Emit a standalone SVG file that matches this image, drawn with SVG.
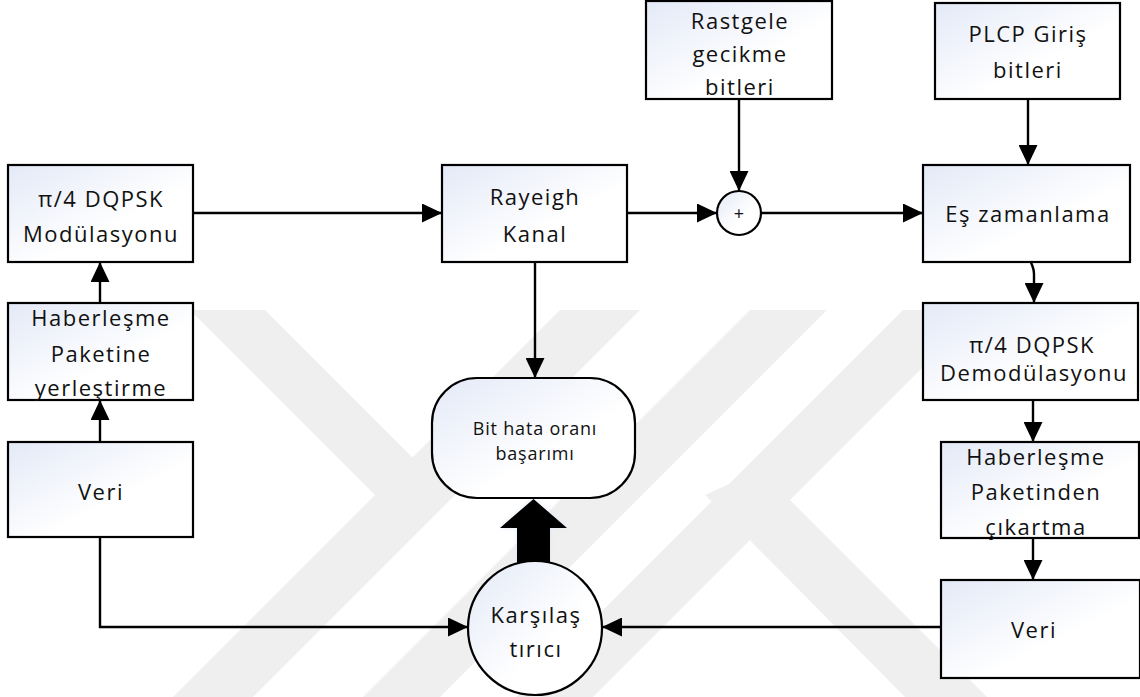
<svg xmlns="http://www.w3.org/2000/svg" width="1140" height="697" viewBox="0 0 1140 697">
<defs>
<linearGradient id="g" x1="0" y1="0" x2="1" y2="1">
<stop offset="0" stop-color="#e3e9f7"/>
<stop offset="0.6" stop-color="#ffffff"/>
</linearGradient>
<marker id="a" markerUnits="userSpaceOnUse" markerWidth="20" markerHeight="19" refX="20" refY="9.5" orient="auto">
<path d="M0,0 L20,9.5 L0,19 z" fill="#000"/>
</marker>
<filter id="glow" x="-50%" y="-50%" width="200%" height="200%">
<feGaussianBlur stdDeviation="2"/>
</filter>
</defs>
<style>
.box{fill:url(#g);stroke:#000;stroke-width:2.2}
.t{font-family:"Open Sans","Liberation Sans",sans-serif;font-size:22px;letter-spacing:1.5px;text-anchor:middle;fill:#111}
.s{font-size:18px;letter-spacing:0.8px}
.c{fill:none;stroke:#000;stroke-width:2.4;marker-end:url(#a)}
.wm{fill:#efefef}
</style>
<rect width="1140" height="697" fill="#fff"/>
<g id="watermark">
<polygon class="wm" points="560,310 640,310 253,697 173,697"/>
<polygon class="wm" points="750,310 827,310 440,697 363,697"/>
<polygon class="wm" points="903,310 980,310 593,697 516,697"/>
<polygon class="wm" points="190,310 265,310 452,497 375,495"/>
<polygon class="wm" points="705,495 760,470 987,697 905,697"/>
</g>
<g id="connectors">
<path class="c" d="M100,442 L100,400"/>
<path class="c" d="M100,303 L100,262"/>
<path class="c" d="M193,213 L442,213"/>
<path class="c" d="M627,213 L717,213"/>
<path class="c" d="M739,99 L739,191"/>
<path class="c" d="M761,213 L923,213"/>
<path class="c" d="M1028,99 L1028,165"/>
<path class="c" d="M1031,262 C1032,266 1034,268 1034,274 L1034,303"/>
<path class="c" d="M1033,400 L1033,442"/>
<path class="c" d="M1033,538 L1033,580"/>
<path class="c" d="M535,262 L535,378"/>
<path class="c" d="M100,537 L100,627 L468,627"/>
<path class="c" d="M941,627 L602,627"/>
<polygon points="517,563 517,528 500,528 533.5,499 567,528 550,528 550,563" fill="#dfe8f8" filter="url(#glow)"/>
<polygon points="517,563 517,528 500,528 533.5,499 567,528 550,528 550,563" fill="#000"/>
</g>
<g id="mod">
<rect class="box" x="8" y="165" width="185" height="97"/>
<text class="t" x="101" y="207">π/4 DQPSK</text>
<text class="t" x="101" y="242">Modülasyonu</text>
</g>
<g id="hab1">
<rect class="box" x="8" y="303" width="185" height="97"/>
<text class="t" x="101" y="326">Haberleşme</text>
<text class="t" x="101" y="362">Paketine</text>
<text class="t" x="101" y="396">yerleştirme</text>
</g>
<g id="veri1">
<rect class="box" x="8" y="442" width="185" height="95"/>
<text class="t" x="101" y="500">Veri</text>
</g>
<g id="ray">
<rect class="box" x="442" y="165" width="185" height="97"/>
<text class="t" x="535" y="205">Rayeigh</text>
<text class="t" x="535" y="242">Kanal</text>
</g>
<g id="rast">
<rect class="box" x="646" y="1" width="186" height="98"/>
<text class="t" x="740" y="29">Rastgele</text>
<text class="t" x="740" y="62">gecikme</text>
<text class="t" x="740" y="95">bitleri</text>
</g>
<g id="plcp">
<rect class="box" x="935" y="3" width="185" height="96"/>
<text class="t" x="1028" y="42">PLCP Giriş</text>
<text class="t" x="1028" y="78">bitleri</text>
</g>
<g id="plus">
<circle cx="739" cy="213" r="22" fill="url(#g)" stroke="#000" stroke-width="2.2"/>
<text class="t" x="739" y="220" style="font-size:18px;letter-spacing:0">+</text>
</g>
<g id="es">
<rect class="box" x="923" y="165" width="207" height="97"/>
<text class="t" x="1028" y="222">Eş zamanlama</text>
</g>
<g id="demod">
<rect class="box" x="923" y="303" width="215" height="97"/>
<text class="t" x="1032" y="353">π/4 DQPSK</text>
<text class="t" x="1034" y="381">Demodülasyonu</text>
</g>
<g id="hab2">
<rect class="box" x="941" y="442" width="198" height="96"/>
<text class="t" x="1036" y="465">Haberleşme</text>
<text class="t" x="1036" y="500">Paketinden</text>
<text class="t" x="1036" y="535">çıkartma</text>
</g>
<g id="veri2">
<rect class="box" x="941" y="580" width="199" height="98"/>
<text class="t" x="1034" y="638">Veri</text>
</g>
<g id="ber">
<rect class="box" x="432" y="378" width="203" height="120" rx="45" ry="45"/>
<text class="t s" x="535" y="435">Bit hata oranı</text>
<text class="t s" x="535" y="460">başarımı</text>
</g>
<g id="comp">
<circle cx="535" cy="628" r="67" fill="url(#g)" stroke="#000" stroke-width="2.2"/>
<text class="t" x="536" y="623">Karşılaş</text>
<text class="t" x="536" y="657">tırıcı</text>
</g>
</svg>
